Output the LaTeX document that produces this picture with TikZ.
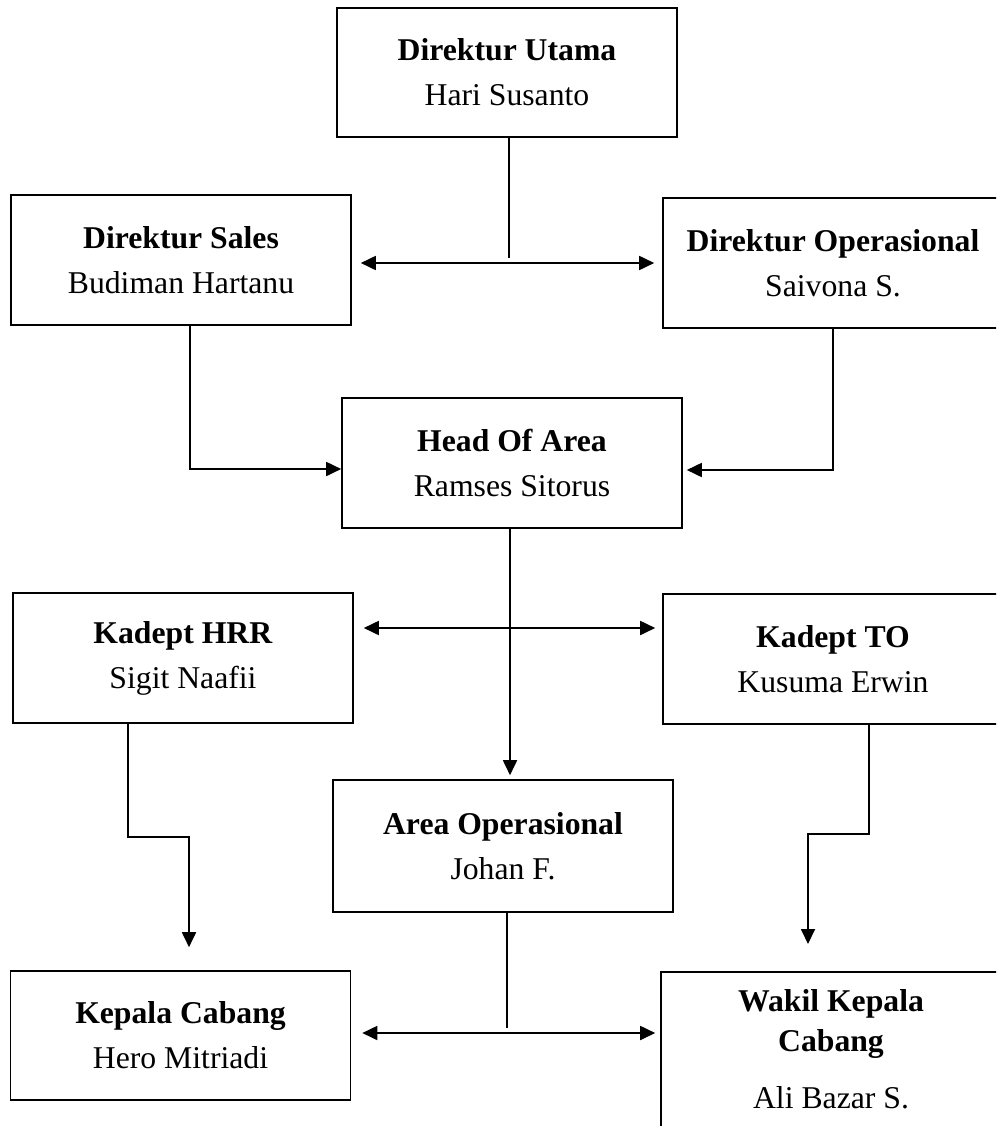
\documentclass[tikz,border=0pt]{standalone}
\usepackage{fontspec}
\setmainfont{Liberation Serif}
\usetikzlibrary{arrows.meta}

\tikzset{
  box/.style={draw,line width=1.6pt,minimum width=340pt,minimum height=130pt,align=center,inner sep=0pt,
    font=\fontsize{31.7}{45}\selectfont},
  link/.style={line width=1.8pt},
  arr/.style={link,-{Triangle[length=15pt,width=14pt]}},
  darr/.style={link,{Triangle[length=15pt,width=14pt]}-{Triangle[length=15pt,width=14pt]}}
}

\begin{document}
\begin{tikzpicture}[x=1pt,y=-1pt]
\useasboundingbox (0,0) rectangle (996,1126);
\clip (0,0) rectangle (996,1126);

\node (DU) at (507,72.5)[box,minimum height=129pt] {\textbf{Direktur Utama}\\Hari Susanto};
\node (DS) at (181,260)[box] {\textbf{Direktur Sales}\\Budiman Hartanu};
\node (DO) at (833,263)[box] {\textbf{Direktur Operasional}\\Saivona S.};
\node (HOA) at (512,463)[box] {\textbf{Head Of Area}\\Ramses Sitorus};
\node (KH) at (183,658)[box] {\textbf{Kadept HRR}\\Sigit Naafii};
\node (KT) at (833,659)[box] {\textbf{Kadept TO}\\Kusuma Erwin};
\node (AO) at (503,846)[box,minimum height=132pt] {\textbf{Area Operasional}\\Johan F.};
\node (KC) at (180.5,1035.5)[box,minimum height=129pt] {\textbf{Kepala Cabang}\\Hero Mitriadi};
\node (WKC) at (831,971)[box,anchor=north,minimum height=220pt] {};
\node (WKCtext) at (831,1049)[align=center,font=\fontsize{31.7}{45}\selectfont] {\textbf{Wakil Kepala}\\[-5pt]\textbf{Cabang}\\[12pt]Ali Bazar S.};

\coordinate (m1) at (509,263);
\coordinate (m2) at (509,628);
\coordinate (m3) at (507,1033);

% top level
\draw [link] ([xshift=2pt]DU.south) -- ([yshift=5pt]m1);
\draw [darr,shorten <=9pt,shorten >=8pt] (m1 -| DS.east) -- (m1 -| DO.west);
\draw [arr] ([xshift=9pt]DS.south) |- ([yshift=-6pt]HOA.west);
\draw [arr,shorten >=4pt] (DO.south) |- ([yshift=-7pt]HOA.east);

% middle
\draw [arr,shorten >=4pt] ([xshift=-2pt]HOA.south) -- ([xshift=-2pt]HOA.south |- AO.north);
\draw [darr,shorten <=10pt,shorten >=7pt] (m2 -| KH.east) -- (m2 -| KT.west);
\draw [arr,shorten >=23pt] ([xshift=-55pt]KH.south) -- ++(0,113) -| ([xshift=8.5pt]KC.north);
\draw [arr,shorten >=27pt] ([xshift=36pt]KT.south) -- ++(0,109) -| ([xshift=-23pt]WKC.north);

% bottom
\draw [link] ([xshift=4pt]AO.south) -- ([yshift=5pt]m3);
\draw [darr,shorten <=11pt,shorten >=5pt] (m3 -| KC.east) -- (m3 -| WKC.west);
\end{tikzpicture}
\end{document}
